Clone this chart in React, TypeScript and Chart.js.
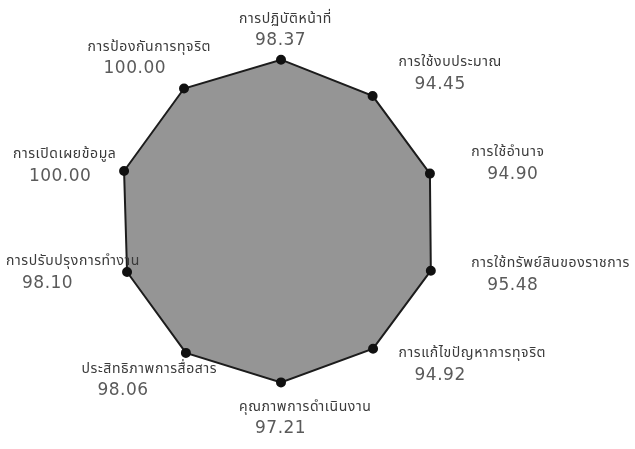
import { useEffect, useRef } from "react";
import { Chart, registerables } from "chart.js";

Chart.register(...registerables);

const categories: string[] = [
  "การปฏิบัติหน้าที่",
  "การใช้งบประมาณ",
  "การใช้อำนาจ",
  "การใช้ทรัพย์สินของราชการ",
  "การแก้ไขปัญหาการทุจริต",
  "คุณภาพการดำเนินงาน",
  "ประสิทธิภาพการสื่อสาร",
  "การปรับปรุงการทำงาน",
  "การเปิดเผยข้อมูล",
  "การป้องกันการทุจริต",
];
const scores: number[] = [98.37, 94.45, 94.9, 95.48, 94.92, 97.21, 98.06, 98.1, 100.0, 100.0];
const scaleMin = 0;
const scaleMax = 100;

const FONT = "'Noto Sans Thai', 'Noto Sans', Loma, Garuda, 'DejaVu Sans', sans-serif";

const labelPlugin = {
  id: "axisValueLabels",
  afterDraw(chart: any) {
    const scale = chart.scales.r;
    const ctx = chart.ctx as any;
    const labels = chart.data.labels as string[];
    const values = chart.data.datasets[0].data as number[];
    const R = scale.drawingArea;
    ctx.save();
    ctx.textBaseline = "middle";
    ctx.textAlign = "left";
    const labelH = 16;
    const valueH = 26;
    const h = labelH + valueH;
    for (let i = 0; i < labels.length; i++) {
      const a = scale.getIndexAngle(i) - Math.PI / 2;
      const c = Math.cos(a);
      const s = Math.sin(a);
      ctx.font = `14px ${FONT}`;
      ctx.letterSpacing = "0.6px";
      const w = ctx.measureText(labels[i]).width;
      let bx = 0;
      let by = 0;
      if (Math.abs(c) < 0.1) {
        const p = scale.getPointPosition(i, R + (s < 0 ? 3 : 13));
        bx = p.x - 42;
        by = s < 0 ? p.y - h : p.y;
      } else if (c > 0) {
        const p = scale.getPointPosition(i, R + 35);
        bx = p.x;
        by = p.y - h / 2 - s * 20;
      } else {
        const p = scale.getPointPosition(i, R + 8);
        if (Math.abs(c) > 0.8) {
          bx = p.x - w;
          by = p.y - h / 2;
        } else {
          bx = p.x - 30 - w / 2;
          by = s < 0 ? p.y - h : p.y;
        }
      }
      bx = Math.max(bx, 6);
      bx = Math.min(bx, chart.width - w - 4);
      ctx.fillStyle = "#3a3a3a";
      ctx.fillText(labels[i], bx, by + labelH / 2);
      ctx.fillStyle = "#5a5a5a";
      ctx.font = `17px 'DejaVu Sans', sans-serif`;
      ctx.letterSpacing = "0.5px";
      ctx.fillText(values[i].toFixed(2), bx + 16, by + labelH + valueH / 2);
    }
    ctx.restore();
  },
};

export default function App() {
  const ref = useRef<HTMLCanvasElement | null>(null);
  useEffect(() => {
    if (!ref.current) return;
    const chart = new Chart(ref.current, {
      type: "radar",
      data: {
        labels: categories,
        datasets: [
          {
            data: scores,
            fill: true,
            backgroundColor: "#959595",
            borderColor: "#1c1c1c",
            borderWidth: 2,
            pointRadius: 4,
            pointBackgroundColor: "#111111",
            pointBorderColor: "#111111",
            tension: 0,
          },
        ],
      },
      options: {
        responsive: false,
        animation: false,
        devicePixelRatio: 1,
        layout: { padding: { left: 116, right: 189, top: 57, bottom: 62 } },
        plugins: { legend: { display: false }, tooltip: { enabled: false } },
        scales: {
          r: {
            min: scaleMin,
            max: scaleMax,
            ticks: { display: false },
            grid: { display: false },
            angleLines: { display: false },
            pointLabels: { display: false },
          },
        },
      },
      plugins: [labelPlugin],
    });
    return () => chart.destroy();
  }, []);
  return (
    <div style={{ position: "fixed", left: 0, top: 0, width: 635, height: 449, background: "#fff" }}>
      <canvas ref={ref} width={635} height={449} style={{ width: 635, height: 449, display: "block" }} />
    </div>
  );
}
